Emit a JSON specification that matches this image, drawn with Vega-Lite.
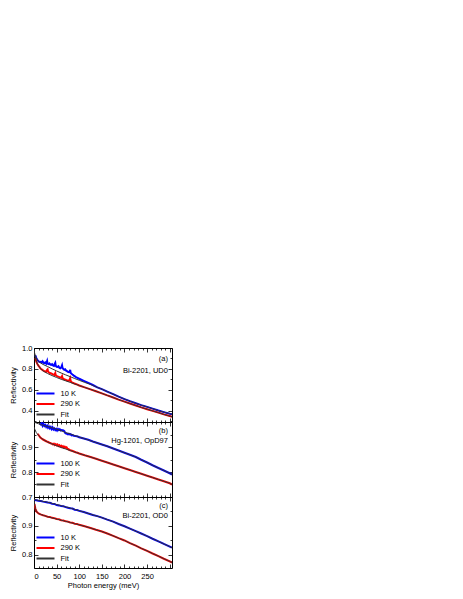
{
  "$schema": "https://vega.github.io/schema/vega-lite/v6.json",
  "padding": {"left": 9, "top": 343, "right": 5, "bottom": 5},
  "bounds": "flush",
  "spacing": 0,
  "config": {
    "font": "Liberation Sans",
    "view": {"stroke": "black", "strokeWidth": 1},
    "axis": {"labelFontSize": 7.5, "titleFontSize": 7.5, "labelColor": "black", "titleColor": "black", "titleFontWeight": "normal", "grid": false, "domain": false, "tickColor": "black", "tickWidth": 0.8},
    "legend": {"labelFontSize": 7.5, "labelColor": "black", "padding": 0, "rowPadding": 0.5, "labelOffset": 9.5, "symbolType": "M-2,0H2", "symbolSize": 81, "symbolStrokeWidth": 2, "orient": "none", "legendX": 6, "title": null}
  },
  "resolve": {"scale": {"color": "independent", "y": "independent"}, "legend": {"color": "independent"}},
  "datasets": {
    "aD": [
      {"s":"10 K","E":3,"R":0.93},{"s":"10 K","E":5,"R":0.905},{"s":"10 K","E":7,"R":0.89},{"s":"10 K","E":9,"R":0.878},{"s":"10 K","E":11,"R":0.87},{"s":"10 K","E":13,"R":0.866},{"s":"10 K","E":15,"R":0.868},{"s":"10 K","E":17,"R":0.86},{"s":"10 K","E":19,"R":0.872},{"s":"10 K","E":21,"R":0.858},{"s":"10 K","E":23,"R":0.855},{"s":"10 K","E":25,"R":0.862},{"s":"10 K","E":27,"R":0.85},{"s":"10 K","E":29,"R":0.875},{"s":"10 K","E":30,"R":0.85},{"s":"10 K","E":32,"R":0.845},{"s":"10 K","E":34,"R":0.852},{"s":"10 K","E":36,"R":0.84},{"s":"10 K","E":38,"R":0.838},{"s":"10 K","E":40,"R":0.845},{"s":"10 K","E":42,"R":0.832},{"s":"10 K","E":44,"R":0.828},{"s":"10 K","E":46,"R":0.85},{"s":"10 K","E":47,"R":0.858},{"s":"10 K","E":48,"R":0.83},{"s":"10 K","E":50,"R":0.82},{"s":"10 K","E":52,"R":0.818},{"s":"10 K","E":54,"R":0.825},{"s":"10 K","E":56,"R":0.81},{"s":"10 K","E":58,"R":0.805},{"s":"10 K","E":60,"R":0.812},{"s":"10 K","E":62,"R":0.835},{"s":"10 K","E":63,"R":0.81},{"s":"10 K","E":65,"R":0.798},{"s":"10 K","E":67,"R":0.79},{"s":"10 K","E":69,"R":0.795},{"s":"10 K","E":71,"R":0.783},{"s":"10 K","E":73,"R":0.778},{"s":"10 K","E":75,"R":0.772},{"s":"10 K","E":77,"R":0.768},{"s":"10 K","E":79,"R":0.775},{"s":"10 K","E":80,"R":0.79},{"s":"10 K","E":81,"R":0.76},{"s":"10 K","E":83,"R":0.752},{"s":"10 K","E":85,"R":0.745},{"s":"10 K","E":88,"R":0.735},{"s":"10 K","E":92,"R":0.723},{"s":"10 K","E":96,"R":0.714},{"s":"10 K","E":100,"R":0.705},{"s":"10 K","E":110,"R":0.685},{"s":"10 K","E":120,"R":0.665},{"s":"10 K","E":130,"R":0.645},{"s":"10 K","E":140,"R":0.622},{"s":"10 K","E":150,"R":0.605},{"s":"10 K","E":162,"R":0.582},{"s":"10 K","E":175,"R":0.557},{"s":"10 K","E":187,"R":0.533},{"s":"10 K","E":200,"R":0.51},{"s":"10 K","E":212,"R":0.49},{"s":"10 K","E":225,"R":0.47},{"s":"10 K","E":237,"R":0.452},{"s":"10 K","E":250,"R":0.435},{"s":"10 K","E":262,"R":0.418},{"s":"10 K","E":275,"R":0.4},{"s":"10 K","E":287,"R":0.385},{"s":"10 K","E":300,"R":0.37},{"s":"10 K","E":305,"R":0.365},
      {"s":"290 K","E":3,"R":0.905},{"s":"290 K","E":5,"R":0.87},{"s":"290 K","E":7,"R":0.85},{"s":"290 K","E":9,"R":0.835},{"s":"290 K","E":11,"R":0.825},{"s":"290 K","E":13,"R":0.812},{"s":"290 K","E":15,"R":0.8},{"s":"290 K","E":17,"R":0.795},{"s":"290 K","E":19,"R":0.787},{"s":"290 K","E":21,"R":0.782},{"s":"290 K","E":23,"R":0.778},{"s":"290 K","E":25,"R":0.775},{"s":"290 K","E":27,"R":0.772},{"s":"290 K","E":29,"R":0.79},{"s":"290 K","E":30,"R":0.795},{"s":"290 K","E":31,"R":0.775},{"s":"290 K","E":33,"R":0.765},{"s":"290 K","E":35,"R":0.76},{"s":"290 K","E":37,"R":0.758},{"s":"290 K","E":39,"R":0.755},{"s":"290 K","E":41,"R":0.748},{"s":"290 K","E":43,"R":0.745},{"s":"290 K","E":45,"R":0.742},{"s":"290 K","E":47,"R":0.76},{"s":"290 K","E":48,"R":0.74},{"s":"290 K","E":50,"R":0.732},{"s":"290 K","E":52,"R":0.728},{"s":"290 K","E":54,"R":0.725},{"s":"290 K","E":56,"R":0.72},{"s":"290 K","E":58,"R":0.718},{"s":"290 K","E":60,"R":0.714},{"s":"290 K","E":62,"R":0.73},{"s":"290 K","E":63,"R":0.712},{"s":"290 K","E":65,"R":0.703},{"s":"290 K","E":67,"R":0.7},{"s":"290 K","E":69,"R":0.697},{"s":"290 K","E":71,"R":0.693},{"s":"290 K","E":73,"R":0.69},{"s":"290 K","E":75,"R":0.686},{"s":"290 K","E":77,"R":0.684},{"s":"290 K","E":79,"R":0.7},{"s":"290 K","E":80,"R":0.71},{"s":"290 K","E":81,"R":0.685},{"s":"290 K","E":83,"R":0.672},{"s":"290 K","E":85,"R":0.668},{"s":"290 K","E":88,"R":0.662},{"s":"290 K","E":92,"R":0.655},{"s":"290 K","E":96,"R":0.648},{"s":"290 K","E":100,"R":0.64},{"s":"290 K","E":112,"R":0.622},{"s":"290 K","E":125,"R":0.603},{"s":"290 K","E":137,"R":0.585},{"s":"290 K","E":150,"R":0.565},{"s":"290 K","E":162,"R":0.545},{"s":"290 K","E":175,"R":0.525},{"s":"290 K","E":187,"R":0.505},{"s":"290 K","E":200,"R":0.485},{"s":"290 K","E":212,"R":0.467},{"s":"290 K","E":225,"R":0.448},{"s":"290 K","E":237,"R":0.43},{"s":"290 K","E":250,"R":0.413},{"s":"290 K","E":262,"R":0.397},{"s":"290 K","E":275,"R":0.38},{"s":"290 K","E":287,"R":0.363},{"s":"290 K","E":300,"R":0.347},{"s":"290 K","E":305,"R":0.34}
    ],
    "aF": [
      {"s":"Fit","c":"f1","E":0,"R":0.985},{"s":"Fit","c":"f1","E":1,"R":0.96},{"s":"Fit","c":"f1","E":2,"R":0.94},{"s":"Fit","c":"f1","E":4,"R":0.915},{"s":"Fit","c":"f1","E":6,"R":0.895},{"s":"Fit","c":"f1","E":8,"R":0.88},{"s":"Fit","c":"f1","E":10,"R":0.87},{"s":"Fit","c":"f1","E":15,"R":0.855},{"s":"Fit","c":"f1","E":20,"R":0.842},{"s":"Fit","c":"f1","E":30,"R":0.822},{"s":"Fit","c":"f1","E":40,"R":0.8},{"s":"Fit","c":"f1","E":50,"R":0.78},{"s":"Fit","c":"f1","E":60,"R":0.76},{"s":"Fit","c":"f1","E":70,"R":0.742},{"s":"Fit","c":"f1","E":80,"R":0.725},{"s":"Fit","c":"f1","E":90,"R":0.707},{"s":"Fit","c":"f1","E":100,"R":0.69},{"s":"Fit","c":"f1","E":112,"R":0.67},{"s":"Fit","c":"f1","E":125,"R":0.65},{"s":"Fit","c":"f1","E":137,"R":0.628},{"s":"Fit","c":"f1","E":150,"R":0.605},{"s":"Fit","c":"f1","E":162,"R":0.582},{"s":"Fit","c":"f1","E":175,"R":0.557},{"s":"Fit","c":"f1","E":187,"R":0.533},{"s":"Fit","c":"f1","E":200,"R":0.51},{"s":"Fit","c":"f1","E":212,"R":0.49},{"s":"Fit","c":"f1","E":225,"R":0.47},{"s":"Fit","c":"f1","E":237,"R":0.452},{"s":"Fit","c":"f1","E":250,"R":0.435},{"s":"Fit","c":"f1","E":262,"R":0.418},{"s":"Fit","c":"f1","E":275,"R":0.4},{"s":"Fit","c":"f1","E":287,"R":0.385},{"s":"Fit","c":"f1","E":300,"R":0.37},{"s":"Fit","c":"f1","E":305,"R":0.365},
      {"s":"Fit","c":"f2","E":0,"R":0.98},{"s":"Fit","c":"f2","E":1,"R":0.95},{"s":"Fit","c":"f2","E":2,"R":0.925},{"s":"Fit","c":"f2","E":4,"R":0.89},{"s":"Fit","c":"f2","E":6,"R":0.865},{"s":"Fit","c":"f2","E":8,"R":0.845},{"s":"Fit","c":"f2","E":10,"R":0.83},{"s":"Fit","c":"f2","E":15,"R":0.8},{"s":"Fit","c":"f2","E":20,"R":0.78},{"s":"Fit","c":"f2","E":30,"R":0.755},{"s":"Fit","c":"f2","E":40,"R":0.735},{"s":"Fit","c":"f2","E":50,"R":0.717},{"s":"Fit","c":"f2","E":60,"R":0.7},{"s":"Fit","c":"f2","E":70,"R":0.685},{"s":"Fit","c":"f2","E":80,"R":0.67},{"s":"Fit","c":"f2","E":90,"R":0.655},{"s":"Fit","c":"f2","E":100,"R":0.64},{"s":"Fit","c":"f2","E":112,"R":0.622},{"s":"Fit","c":"f2","E":125,"R":0.603},{"s":"Fit","c":"f2","E":137,"R":0.585},{"s":"Fit","c":"f2","E":150,"R":0.565},{"s":"Fit","c":"f2","E":162,"R":0.545},{"s":"Fit","c":"f2","E":175,"R":0.525},{"s":"Fit","c":"f2","E":187,"R":0.505},{"s":"Fit","c":"f2","E":200,"R":0.485},{"s":"Fit","c":"f2","E":212,"R":0.467},{"s":"Fit","c":"f2","E":225,"R":0.448},{"s":"Fit","c":"f2","E":237,"R":0.43},{"s":"Fit","c":"f2","E":250,"R":0.413},{"s":"Fit","c":"f2","E":262,"R":0.397},{"s":"Fit","c":"f2","E":275,"R":0.38},{"s":"Fit","c":"f2","E":287,"R":0.363},{"s":"Fit","c":"f2","E":300,"R":0.347},{"s":"Fit","c":"f2","E":305,"R":0.34}
    ],
    "bD": [
      {"s":"100 K","E":13,"R":0.993},{"s":"100 K","E":15,"R":0.99},{"s":"100 K","E":17,"R":0.996},{"s":"100 K","E":19,"R":0.985},{"s":"100 K","E":21,"R":0.992},{"s":"100 K","E":23,"R":0.984},{"s":"100 K","E":25,"R":0.988},{"s":"100 K","E":27,"R":0.98},{"s":"100 K","E":29,"R":0.985},{"s":"100 K","E":31,"R":0.977},{"s":"100 K","E":33,"R":0.982},{"s":"100 K","E":35,"R":0.975},{"s":"100 K","E":37,"R":0.98},{"s":"100 K","E":39,"R":0.972},{"s":"100 K","E":41,"R":0.978},{"s":"100 K","E":43,"R":0.97},{"s":"100 K","E":45,"R":0.974},{"s":"100 K","E":47,"R":0.968},{"s":"100 K","E":49,"R":0.972},{"s":"100 K","E":51,"R":0.966},{"s":"100 K","E":53,"R":0.972},{"s":"100 K","E":55,"R":0.968},{"s":"100 K","E":57,"R":0.971},{"s":"100 K","E":59,"R":0.966},{"s":"100 K","E":61,"R":0.968},{"s":"100 K","E":63,"R":0.967},{"s":"100 K","E":65,"R":0.966},{"s":"100 K","E":67,"R":0.963},{"s":"100 K","E":69,"R":0.956},{"s":"100 K","E":71,"R":0.954},{"s":"100 K","E":73,"R":0.953},{"s":"100 K","E":75,"R":0.951},{"s":"100 K","E":77,"R":0.953},{"s":"100 K","E":79,"R":0.95},{"s":"100 K","E":81,"R":0.951},{"s":"100 K","E":83,"R":0.947},{"s":"100 K","E":85,"R":0.948},{"s":"100 K","E":88,"R":0.945},{"s":"100 K","E":91,"R":0.944},{"s":"100 K","E":95,"R":0.943},{"s":"100 K","E":100,"R":0.939},{"s":"100 K","E":110,"R":0.934},{"s":"100 K","E":120,"R":0.929},{"s":"100 K","E":130,"R":0.922},{"s":"100 K","E":140,"R":0.916},{"s":"100 K","E":150,"R":0.91},{"s":"100 K","E":162,"R":0.903},{"s":"100 K","E":175,"R":0.894},{"s":"100 K","E":187,"R":0.886},{"s":"100 K","E":200,"R":0.877},{"s":"100 K","E":212,"R":0.869},{"s":"100 K","E":225,"R":0.86},{"s":"100 K","E":237,"R":0.849},{"s":"100 K","E":250,"R":0.838},{"s":"100 K","E":262,"R":0.827},{"s":"100 K","E":275,"R":0.816},{"s":"100 K","E":287,"R":0.806},{"s":"100 K","E":300,"R":0.795},{"s":"100 K","E":305,"R":0.79},
      {"s":"290 K","E":8,"R":0.953},{"s":"290 K","E":10,"R":0.948},{"s":"290 K","E":12,"R":0.943},{"s":"290 K","E":14,"R":0.938},{"s":"290 K","E":16,"R":0.935},{"s":"290 K","E":18,"R":0.932},{"s":"290 K","E":20,"R":0.93},{"s":"290 K","E":22,"R":0.928},{"s":"290 K","E":24,"R":0.926},{"s":"290 K","E":26,"R":0.924},{"s":"290 K","E":28,"R":0.922},{"s":"290 K","E":30,"R":0.921},{"s":"290 K","E":32,"R":0.919},{"s":"290 K","E":34,"R":0.917},{"s":"290 K","E":36,"R":0.916},{"s":"290 K","E":38,"R":0.914},{"s":"290 K","E":40,"R":0.913},{"s":"290 K","E":42,"R":0.91},{"s":"290 K","E":44,"R":0.913},{"s":"290 K","E":46,"R":0.908},{"s":"290 K","E":48,"R":0.911},{"s":"290 K","E":50,"R":0.907},{"s":"290 K","E":52,"R":0.91},{"s":"290 K","E":54,"R":0.904},{"s":"290 K","E":56,"R":0.907},{"s":"290 K","E":58,"R":0.902},{"s":"290 K","E":60,"R":0.905},{"s":"290 K","E":62,"R":0.9},{"s":"290 K","E":64,"R":0.903},{"s":"290 K","E":66,"R":0.898},{"s":"290 K","E":68,"R":0.901},{"s":"290 K","E":70,"R":0.897},{"s":"290 K","E":72,"R":0.899},{"s":"290 K","E":74,"R":0.893},{"s":"290 K","E":76,"R":0.891},{"s":"290 K","E":78,"R":0.889},{"s":"290 K","E":80,"R":0.887},{"s":"290 K","E":84,"R":0.885},{"s":"290 K","E":88,"R":0.882},{"s":"290 K","E":92,"R":0.879},{"s":"290 K","E":96,"R":0.877},{"s":"290 K","E":100,"R":0.874},{"s":"290 K","E":112,"R":0.867},{"s":"290 K","E":125,"R":0.86},{"s":"290 K","E":137,"R":0.853},{"s":"290 K","E":150,"R":0.845},{"s":"290 K","E":162,"R":0.838},{"s":"290 K","E":175,"R":0.83},{"s":"290 K","E":187,"R":0.823},{"s":"290 K","E":200,"R":0.815},{"s":"290 K","E":212,"R":0.808},{"s":"290 K","E":225,"R":0.8},{"s":"290 K","E":237,"R":0.793},{"s":"290 K","E":250,"R":0.785},{"s":"290 K","E":262,"R":0.778},{"s":"290 K","E":275,"R":0.77},{"s":"290 K","E":287,"R":0.763},{"s":"290 K","E":300,"R":0.755},{"s":"290 K","E":305,"R":0.75}
    ],
    "bF": [
      {"s":"Fit","c":"f1","E":0,"R":1.0},{"s":"Fit","c":"f1","E":5,"R":0.996},{"s":"Fit","c":"f1","E":10,"R":0.993},{"s":"Fit","c":"f1","E":15,"R":0.99},{"s":"Fit","c":"f1","E":20,"R":0.987},{"s":"Fit","c":"f1","E":30,"R":0.982},{"s":"Fit","c":"f1","E":40,"R":0.977},{"s":"Fit","c":"f1","E":50,"R":0.971},{"s":"Fit","c":"f1","E":60,"R":0.965},{"s":"Fit","c":"f1","E":70,"R":0.958},{"s":"Fit","c":"f1","E":80,"R":0.952},{"s":"Fit","c":"f1","E":90,"R":0.946},{"s":"Fit","c":"f1","E":100,"R":0.94},{"s":"Fit","c":"f1","E":112,"R":0.933},{"s":"Fit","c":"f1","E":125,"R":0.925},{"s":"Fit","c":"f1","E":137,"R":0.918},{"s":"Fit","c":"f1","E":150,"R":0.91},{"s":"Fit","c":"f1","E":162,"R":0.903},{"s":"Fit","c":"f1","E":175,"R":0.894},{"s":"Fit","c":"f1","E":187,"R":0.886},{"s":"Fit","c":"f1","E":200,"R":0.877},{"s":"Fit","c":"f1","E":212,"R":0.869},{"s":"Fit","c":"f1","E":225,"R":0.86},{"s":"Fit","c":"f1","E":237,"R":0.849},{"s":"Fit","c":"f1","E":250,"R":0.838},{"s":"Fit","c":"f1","E":262,"R":0.827},{"s":"Fit","c":"f1","E":275,"R":0.816},{"s":"Fit","c":"f1","E":287,"R":0.806},{"s":"Fit","c":"f1","E":300,"R":0.795},{"s":"Fit","c":"f1","E":305,"R":0.79},
      {"s":"Fit","c":"f2","E":0,"R":0.98},{"s":"Fit","c":"f2","E":2,"R":0.97},{"s":"Fit","c":"f2","E":5,"R":0.958},{"s":"Fit","c":"f2","E":10,"R":0.946},{"s":"Fit","c":"f2","E":15,"R":0.937},{"s":"Fit","c":"f2","E":20,"R":0.93},{"s":"Fit","c":"f2","E":30,"R":0.92},{"s":"Fit","c":"f2","E":40,"R":0.912},{"s":"Fit","c":"f2","E":50,"R":0.905},{"s":"Fit","c":"f2","E":60,"R":0.898},{"s":"Fit","c":"f2","E":70,"R":0.892},{"s":"Fit","c":"f2","E":80,"R":0.886},{"s":"Fit","c":"f2","E":90,"R":0.88},{"s":"Fit","c":"f2","E":100,"R":0.874},{"s":"Fit","c":"f2","E":112,"R":0.867},{"s":"Fit","c":"f2","E":125,"R":0.86},{"s":"Fit","c":"f2","E":137,"R":0.853},{"s":"Fit","c":"f2","E":150,"R":0.845},{"s":"Fit","c":"f2","E":162,"R":0.838},{"s":"Fit","c":"f2","E":175,"R":0.83},{"s":"Fit","c":"f2","E":187,"R":0.823},{"s":"Fit","c":"f2","E":200,"R":0.815},{"s":"Fit","c":"f2","E":212,"R":0.808},{"s":"Fit","c":"f2","E":225,"R":0.8},{"s":"Fit","c":"f2","E":237,"R":0.793},{"s":"Fit","c":"f2","E":250,"R":0.785},{"s":"Fit","c":"f2","E":262,"R":0.778},{"s":"Fit","c":"f2","E":275,"R":0.77},{"s":"Fit","c":"f2","E":287,"R":0.763},{"s":"Fit","c":"f2","E":300,"R":0.755},{"s":"Fit","c":"f2","E":305,"R":0.75}
    ],
    "cD": [
      {"s":"10 K","E":1,"R":0.99},{"s":"10 K","E":5,"R":0.989},{"s":"10 K","E":10,"R":0.987},{"s":"10 K","E":15,"R":0.986},{"s":"10 K","E":20,"R":0.984},{"s":"10 K","E":25,"R":0.983},{"s":"10 K","E":30,"R":0.981},{"s":"10 K","E":35,"R":0.98},{"s":"10 K","E":40,"R":0.977},{"s":"10 K","E":45,"R":0.976},{"s":"10 K","E":50,"R":0.972},{"s":"10 K","E":55,"R":0.971},{"s":"10 K","E":60,"R":0.969},{"s":"10 K","E":65,"R":0.968},{"s":"10 K","E":70,"R":0.965},{"s":"10 K","E":75,"R":0.963},{"s":"10 K","E":80,"R":0.961},{"s":"10 K","E":85,"R":0.96},{"s":"10 K","E":90,"R":0.956},{"s":"10 K","E":95,"R":0.955},{"s":"10 K","E":100,"R":0.952},{"s":"10 K","E":110,"R":0.948},{"s":"10 K","E":120,"R":0.943},{"s":"10 K","E":130,"R":0.938},{"s":"10 K","E":140,"R":0.934},{"s":"10 K","E":150,"R":0.929},{"s":"10 K","E":162,"R":0.922},{"s":"10 K","E":175,"R":0.915},{"s":"10 K","E":187,"R":0.907},{"s":"10 K","E":200,"R":0.899},{"s":"10 K","E":212,"R":0.891},{"s":"10 K","E":225,"R":0.882},{"s":"10 K","E":237,"R":0.874},{"s":"10 K","E":250,"R":0.865},{"s":"10 K","E":262,"R":0.856},{"s":"10 K","E":275,"R":0.847},{"s":"10 K","E":287,"R":0.838},{"s":"10 K","E":300,"R":0.829},{"s":"10 K","E":305,"R":0.825},
      {"s":"290 K","E":1,"R":0.976},{"s":"290 K","E":2,"R":0.967},{"s":"290 K","E":3,"R":0.96},{"s":"290 K","E":4,"R":0.955},{"s":"290 K","E":6,"R":0.949},{"s":"290 K","E":8,"R":0.946},{"s":"290 K","E":10,"R":0.943},{"s":"290 K","E":13,"R":0.941},{"s":"290 K","E":16,"R":0.939},{"s":"290 K","E":20,"R":0.937},{"s":"290 K","E":25,"R":0.935},{"s":"290 K","E":30,"R":0.932},{"s":"290 K","E":35,"R":0.931},{"s":"290 K","E":40,"R":0.928},{"s":"290 K","E":45,"R":0.927},{"s":"290 K","E":50,"R":0.924},{"s":"290 K","E":55,"R":0.923},{"s":"290 K","E":60,"R":0.92},{"s":"290 K","E":65,"R":0.919},{"s":"290 K","E":70,"R":0.916},{"s":"290 K","E":75,"R":0.915},{"s":"290 K","E":80,"R":0.912},{"s":"290 K","E":85,"R":0.911},{"s":"290 K","E":90,"R":0.908},{"s":"290 K","E":95,"R":0.907},{"s":"290 K","E":100,"R":0.904},{"s":"290 K","E":112,"R":0.899},{"s":"290 K","E":125,"R":0.893},{"s":"290 K","E":137,"R":0.887},{"s":"290 K","E":150,"R":0.881},{"s":"290 K","E":162,"R":0.874},{"s":"290 K","E":175,"R":0.866},{"s":"290 K","E":187,"R":0.858},{"s":"290 K","E":200,"R":0.85},{"s":"290 K","E":212,"R":0.841},{"s":"290 K","E":225,"R":0.832},{"s":"290 K","E":237,"R":0.823},{"s":"290 K","E":250,"R":0.814},{"s":"290 K","E":262,"R":0.805},{"s":"290 K","E":275,"R":0.796},{"s":"290 K","E":287,"R":0.787},{"s":"290 K","E":300,"R":0.778},{"s":"290 K","E":305,"R":0.774}
    ],
    "cF": [
      {"s":"Fit","c":"f1","E":0,"R":0.992},{"s":"Fit","c":"f1","E":10,"R":0.988},{"s":"Fit","c":"f1","E":20,"R":0.985},{"s":"Fit","c":"f1","E":30,"R":0.982},{"s":"Fit","c":"f1","E":40,"R":0.978},{"s":"Fit","c":"f1","E":50,"R":0.974},{"s":"Fit","c":"f1","E":60,"R":0.97},{"s":"Fit","c":"f1","E":70,"R":0.966},{"s":"Fit","c":"f1","E":80,"R":0.962},{"s":"Fit","c":"f1","E":90,"R":0.957},{"s":"Fit","c":"f1","E":100,"R":0.953},{"s":"Fit","c":"f1","E":112,"R":0.947},{"s":"Fit","c":"f1","E":125,"R":0.941},{"s":"Fit","c":"f1","E":137,"R":0.935},{"s":"Fit","c":"f1","E":150,"R":0.929},{"s":"Fit","c":"f1","E":162,"R":0.922},{"s":"Fit","c":"f1","E":175,"R":0.915},{"s":"Fit","c":"f1","E":187,"R":0.907},{"s":"Fit","c":"f1","E":200,"R":0.899},{"s":"Fit","c":"f1","E":212,"R":0.891},{"s":"Fit","c":"f1","E":225,"R":0.882},{"s":"Fit","c":"f1","E":237,"R":0.874},{"s":"Fit","c":"f1","E":250,"R":0.865},{"s":"Fit","c":"f1","E":262,"R":0.856},{"s":"Fit","c":"f1","E":275,"R":0.847},{"s":"Fit","c":"f1","E":287,"R":0.838},{"s":"Fit","c":"f1","E":300,"R":0.829},{"s":"Fit","c":"f1","E":305,"R":0.825},
      {"s":"Fit","c":"f2","E":0,"R":0.99},{"s":"Fit","c":"f2","E":1,"R":0.978},{"s":"Fit","c":"f2","E":2,"R":0.968},{"s":"Fit","c":"f2","E":3,"R":0.96},{"s":"Fit","c":"f2","E":5,"R":0.952},{"s":"Fit","c":"f2","E":7,"R":0.947},{"s":"Fit","c":"f2","E":10,"R":0.943},{"s":"Fit","c":"f2","E":15,"R":0.94},{"s":"Fit","c":"f2","E":20,"R":0.937},{"s":"Fit","c":"f2","E":30,"R":0.932},{"s":"Fit","c":"f2","E":40,"R":0.928},{"s":"Fit","c":"f2","E":50,"R":0.924},{"s":"Fit","c":"f2","E":60,"R":0.92},{"s":"Fit","c":"f2","E":70,"R":0.916},{"s":"Fit","c":"f2","E":80,"R":0.912},{"s":"Fit","c":"f2","E":90,"R":0.908},{"s":"Fit","c":"f2","E":100,"R":0.904},{"s":"Fit","c":"f2","E":112,"R":0.899},{"s":"Fit","c":"f2","E":125,"R":0.893},{"s":"Fit","c":"f2","E":137,"R":0.887},{"s":"Fit","c":"f2","E":150,"R":0.881},{"s":"Fit","c":"f2","E":162,"R":0.874},{"s":"Fit","c":"f2","E":175,"R":0.866},{"s":"Fit","c":"f2","E":187,"R":0.858},{"s":"Fit","c":"f2","E":200,"R":0.85},{"s":"Fit","c":"f2","E":212,"R":0.841},{"s":"Fit","c":"f2","E":225,"R":0.832},{"s":"Fit","c":"f2","E":237,"R":0.823},{"s":"Fit","c":"f2","E":250,"R":0.814},{"s":"Fit","c":"f2","E":262,"R":0.805},{"s":"Fit","c":"f2","E":275,"R":0.796},{"s":"Fit","c":"f2","E":287,"R":0.787},{"s":"Fit","c":"f2","E":300,"R":0.778},{"s":"Fit","c":"f2","E":305,"R":0.774}
    ]
  },
  "vconcat": [
    {
      "width": 138, "height": 74,
      "resolve": {"axis": {"x": "independent", "y": "independent"}},
      "layer": [
        {
          "data": {"name": "aD"},
          "mark": {"type": "line", "strokeWidth": 2, "clip": true},
          "encoding": {
            "x": {"field": "E", "type": "quantitative", "scale": {"domain": [0, 305], "nice": false}, "axis": {"orient": "bottom", "values": [0,10,20,30,40,50,60,70,80,90,100,110,120,130,140,150,160,170,180,190,200,210,220,230,240,250,260,270,280,290,300], "labels": false, "title": null, "tickSize": {"condition": {"test": "datum.value % 50 === 0", "value": -4}, "value": -2}}},
            "y": {"field": "R", "type": "quantitative", "scale": {"domain": [0.29, 1.0], "nice": false, "zero": false}, "axis": {"orient": "left", "title": "Reflectivity", "titlePadding": 4, "values": [0.3,0.4,0.5,0.6,0.7,0.8,0.9,1.0], "labelPadding": 6, "labelExpr": "indexof(['0.4','0.6','0.8','1.0'], format(datum.value,'.1f')) >= 0 ? format(datum.value,'.1f') : ''", "tickSize": {"condition": {"test": "indexof(['0.4','0.6','0.8','1.0'], format(datum.value,'.1f')) >= 0", "value": -4}, "value": -2}}},
            "color": {"field": "s", "type": "nominal", "scale": {"domain": ["10 K", "290 K", "Fit"], "range": ["#0000ff", "#ff0000", "#333333"]}, "legend": {"legendY": 40, "labelExpr": "datum.label == '10 K' ? '\u2002' + datum.label : datum.label"}}
          }
        },
        {
          "data": {"name": "aF"},
          "mark": {"type": "line", "strokeWidth": 1, "clip": true},
          "encoding": {
            "x": {"field": "E", "type": "quantitative", "axis": {"orient": "top", "values": [0,10,20,30,40,50,60,70,80,90,100,110,120,130,140,150,160,170,180,190,200,210,220,230,240,250,260,270,280,290,300], "labels": false, "title": null, "tickSize": {"condition": {"test": "datum.value % 50 === 0", "value": -4}, "value": -2}}},
            "y": {"field": "R", "type": "quantitative", "axis": {"orient": "right", "values": [0.3,0.4,0.5,0.6,0.7,0.8,0.9,1.0], "labels": false, "title": null, "tickSize": {"condition": {"test": "indexof(['0.4','0.6','0.8','1.0'], format(datum.value,'.1f')) >= 0", "value": -4}, "value": -2}}},
            "color": {"field": "s", "type": "nominal"},
            "detail": {"field": "c", "type": "nominal"}
          }
        },
        {
          "data": {"values": [{}]},
          "mark": {"type": "text", "align": "right", "baseline": "middle", "fontSize": 7.5},
          "encoding": {"x": {"datum": 296, "type": "quantitative", "axis": null}, "y": {"datum": 0.895, "type": "quantitative", "axis": null}, "text": {"value": "(a)"}}
        },
        {
          "data": {"values": [{}]},
          "mark": {"type": "text", "align": "right", "baseline": "middle", "fontSize": 7.5},
          "encoding": {"x": {"datum": 296, "type": "quantitative", "axis": null}, "y": {"datum": 0.778, "type": "quantitative", "axis": null}, "text": {"value": "Bi-2201, UD0"}}
        }
      ]
    },
    {
      "width": 138, "height": 75,
      "resolve": {"axis": {"x": "independent", "y": "independent"}},
      "layer": [
        {
          "data": {"name": "bD"},
          "mark": {"type": "line", "strokeWidth": 2, "clip": true},
          "encoding": {
            "x": {"field": "E", "type": "quantitative", "scale": {"domain": [0, 305], "nice": false}, "axis": {"orient": "bottom", "values": [0,10,20,30,40,50,60,70,80,90,100,110,120,130,140,150,160,170,180,190,200,210,220,230,240,250,260,270,280,290,300], "labels": false, "title": null, "tickSize": {"condition": {"test": "datum.value % 50 === 0", "value": -4}, "value": -2}}},
            "y": {"field": "R", "type": "quantitative", "scale": {"domain": [0.7, 1.0], "nice": false, "zero": false}, "axis": {"orient": "left", "title": "Reflectivity", "titlePadding": 4, "values": [0.7,0.75,0.8,0.85,0.9,0.95,1.0], "labelPadding": 6, "labelExpr": "substring(format(datum.value,'.2f'),3,4) == '0' && datum.value < 0.99 ? format(datum.value,'.1f') : ''", "tickSize": {"condition": {"test": "substring(format(datum.value,'.2f'),3,4) == '0'", "value": -4}, "value": -2}}},
            "color": {"field": "s", "type": "nominal", "scale": {"domain": ["100 K", "290 K", "Fit"], "range": ["#0000ff", "#ff0000", "#333333"]}, "legend": {"legendY": 36}}
          }
        },
        {
          "data": {"name": "bF"},
          "mark": {"type": "line", "strokeWidth": 1, "clip": true},
          "encoding": {
            "x": {"field": "E", "type": "quantitative", "axis": {"orient": "top", "values": [0,10,20,30,40,50,60,70,80,90,100,110,120,130,140,150,160,170,180,190,200,210,220,230,240,250,260,270,280,290,300], "labels": false, "title": null, "tickSize": {"condition": {"test": "datum.value % 50 === 0", "value": -4}, "value": -2}}},
            "y": {"field": "R", "type": "quantitative", "axis": {"orient": "right", "values": [0.7,0.75,0.8,0.85,0.9,0.95,1.0], "labels": false, "title": null, "tickSize": {"condition": {"test": "substring(format(datum.value,'.2f'),3,4) == '0'", "value": -4}, "value": -2}}},
            "color": {"field": "s", "type": "nominal"},
            "detail": {"field": "c", "type": "nominal"}
          }
        },
        {
          "data": {"values": [{}]},
          "mark": {"type": "text", "align": "right", "baseline": "middle", "fontSize": 7.5},
          "encoding": {"x": {"datum": 296, "type": "quantitative", "axis": null}, "y": {"datum": 0.964, "type": "quantitative", "axis": null}, "text": {"value": "(b)"}}
        },
        {
          "data": {"values": [{}]},
          "mark": {"type": "text", "align": "right", "baseline": "middle", "fontSize": 7.5},
          "encoding": {"x": {"datum": 296, "type": "quantitative", "axis": null}, "y": {"datum": 0.923, "type": "quantitative", "axis": null}, "text": {"value": "Hg-1201, OpD97"}}
        }
      ]
    },
    {
      "width": 138, "height": 71,
      "resolve": {"axis": {"x": "independent", "y": "independent"}},
      "layer": [
        {
          "data": {"name": "cD"},
          "mark": {"type": "line", "strokeWidth": 2, "clip": true},
          "encoding": {
            "x": {"field": "E", "type": "quantitative", "scale": {"domain": [0, 305], "nice": false}, "axis": {"orient": "bottom", "values": [0,10,20,30,40,50,60,70,80,90,100,110,120,130,140,150,160,170,180,190,200,210,220,230,240,250,260,270,280,290,300], "labelExpr": "datum.value % 50 === 0 && datum.value < 300 ? datum.label : ''", "labelPadding": 8, "title": "Photon energy (meV)", "titlePadding": 2, "tickSize": {"condition": {"test": "datum.value % 50 === 0", "value": -4}, "value": -2}}},
            "y": {"field": "R", "type": "quantitative", "scale": {"domain": [0.755, 1.0], "nice": false, "zero": false}, "axis": {"orient": "left", "title": "Reflectivity", "titlePadding": 4, "values": [0.8,0.85,0.9,0.95,1.0], "labelPadding": 6, "labelExpr": "format(datum.value,'.2f') == '0.80' || format(datum.value,'.2f') == '0.90' ? format(datum.value,'.1f') : ''", "tickSize": {"condition": {"test": "substring(format(datum.value,'.2f'),3,4) == '0'", "value": -4}, "value": -2}}},
            "color": {"field": "s", "type": "nominal", "scale": {"domain": ["10 K", "290 K", "Fit"], "range": ["#0000ff", "#ff0000", "#333333"]}, "legend": {"legendY": 35, "labelExpr": "datum.label == '10 K' ? '\u2002' + datum.label : datum.label"}}
          }
        },
        {
          "data": {"name": "cF"},
          "mark": {"type": "line", "strokeWidth": 1, "clip": true},
          "encoding": {
            "x": {"field": "E", "type": "quantitative", "axis": {"orient": "top", "values": [0,10,20,30,40,50,60,70,80,90,100,110,120,130,140,150,160,170,180,190,200,210,220,230,240,250,260,270,280,290,300], "labels": false, "title": null, "tickSize": {"condition": {"test": "datum.value % 50 === 0", "value": -4}, "value": -2}}},
            "y": {"field": "R", "type": "quantitative", "axis": {"orient": "right", "values": [0.8,0.85,0.9,0.95,1.0], "labels": false, "title": null, "tickSize": {"condition": {"test": "substring(format(datum.value,'.2f'),3,4) == '0'", "value": -4}, "value": -2}}},
            "color": {"field": "s", "type": "nominal"},
            "detail": {"field": "c", "type": "nominal"}
          }
        },
        {
          "data": {"values": [{}]},
          "mark": {"type": "text", "align": "right", "baseline": "middle", "fontSize": 7.5},
          "encoding": {"x": {"datum": 296, "type": "quantitative", "axis": null}, "y": {"datum": 0.969, "type": "quantitative", "axis": null}, "text": {"value": "(c)"}}
        },
        {
          "data": {"values": [{}]},
          "mark": {"type": "text", "align": "right", "baseline": "middle", "fontSize": 7.5},
          "encoding": {"x": {"datum": 296, "type": "quantitative", "axis": null}, "y": {"datum": 0.934, "type": "quantitative", "axis": null}, "text": {"value": "Bi-2201, OD0"}}
        }
      ]
    }
  ]
}
